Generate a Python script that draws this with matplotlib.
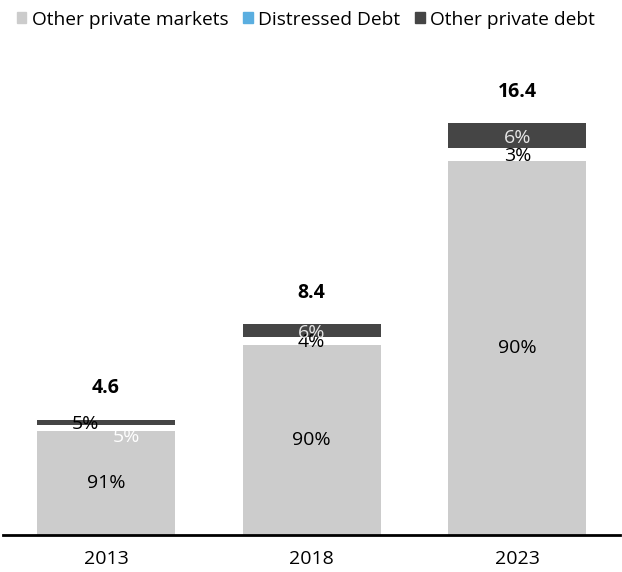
import numpy as np
import matplotlib
matplotlib.use('Agg')
import matplotlib.pyplot as plt
from matplotlib.patches import Patch

plt.rcParams['font.family'] = ['Open Sans', 'DejaVu Sans']

years = ['2013', '2018', '2023']
totals = [4.6, 8.4, 16.4]
pct_markets = [91, 90, 90]
pct_distressed = [5, 4, 3]
pct_debt = [5, 6, 6]
series_names = ['Other private markets', 'Distressed Debt', 'Other private debt']

c_markets = '#cccccc'
c_distressed = '#5aaee0'
c_debt = '#454545'

tot = np.array(totals)
pm = np.array(pct_markets)
pdd = np.array(pct_distressed)
pdb = np.array(pct_debt)
s = pm + pdd + pdb
v_markets = tot * pm / s
v_distressed = tot * pdd / s
v_debt = tot * pdb / s

fig = plt.figure(figsize=(6.22, 5.72), dpi=100)
ax = fig.add_axes([0.005, 0.0647, 0.992, 0.79])
x = np.arange(len(years))
w = 0.67
ax.bar(x, v_markets, w, color=c_markets)
# distressed segment is drawn blank in the original
ax.bar(x, v_distressed, w, bottom=v_markets, color='white')
ax.bar(x, v_debt, w, bottom=v_markets + v_distressed, color=c_debt)

fs = 14
for i in range(len(years)):
    ax.text(x[i], v_markets[i] / 2, f'{pct_markets[i]}%', ha='center', va='center', fontsize=fs, color='black')
    mid_d = v_markets[i] + v_distressed[i] / 2
    mid_b = v_markets[i] + v_distressed[i] + v_debt[i] / 2
    if i == 0:
        ax.text(x[i] - 0.1, mid_b - 0.05, f'{pct_distressed[i]}%', ha='center', va='center', fontsize=fs, color='black')
        ax.text(x[i] + 0.1, mid_d - 0.35, f'{pct_debt[i]}%', ha='center', va='center', fontsize=fs, color='white')
    else:
        ax.text(x[i], mid_d - 0.05, f'{pct_distressed[i]}%', ha='center', va='center', fontsize=fs, color='black')
        ax.text(x[i], mid_b - 0.1, f'{pct_debt[i]}%', ha='center', va='center', fontsize=fs, color='#e6e6e6')
    ax.text(x[i], totals[i] + 1.25, f'{totals[i]}', ha='center', va='center', fontsize=fs, fontweight='bold')

ax.set_xlim(-0.5, 2.5)
ax.set_ylim(0, 18)
ax.set_xticks(x)
ax.set_xticklabels(years, fontsize=fs)
ax.tick_params(axis='x', length=0, pad=11)
ax.set_yticks([])
for sp in ['top', 'left', 'right']:
    ax.spines[sp].set_visible(False)
ax.spines['bottom'].set_linewidth(2)

handles = [Patch(color=c_markets), Patch(color=c_distressed), Patch(color=c_debt)]
fig.legend(handles, series_names, loc='upper left', bbox_to_anchor=(0.01, 1.0), ncol=3, frameon=False,
           fontsize=13.8, handlelength=0.5, handleheight=0.5, handletextpad=0.3, columnspacing=0.75,
           borderaxespad=0.15)

fig.savefig('out.png', dpi=100)
